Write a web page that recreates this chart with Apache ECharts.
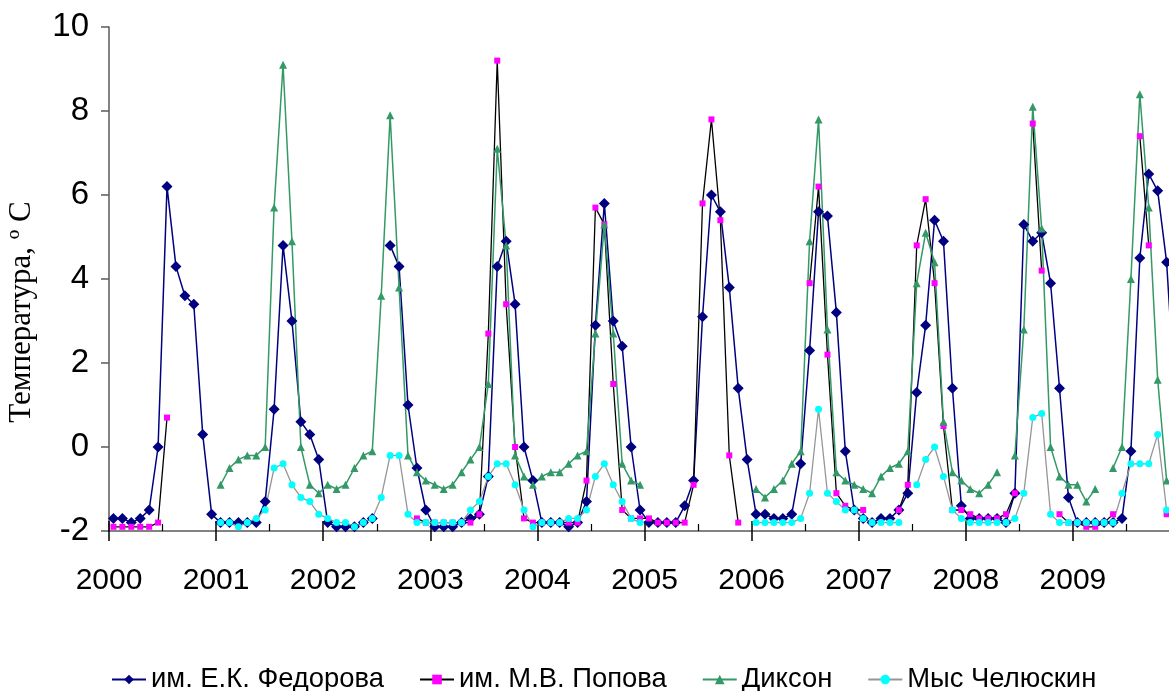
<!DOCTYPE html>
<html>
<head>
<meta charset="utf-8">
<script src="https://cdn.jsdelivr.net/npm/echarts@6/dist/echarts.min.js"></script>
<style>
html,body{margin:0;padding:0;background:#fff;}
#chart{width:1169px;height:691px;}
</style>
</head>
<body>
<div id="chart"></div>
<script>
const years = ['2000','2001','2002','2003','2004','2005','2006','2007','2008','2009'];
const yTicks = [-2, 0, 2, 4, 6, 8, 10];
const seriesNames = ['им. Е.К. Федорова', 'им. М.В. Попова', 'Диксон', 'Мыс Челюскин'];
const yAxisTitle = 'Температура, º С';

const fedorova = [
-1.7,-1.7,-1.8,-1.7,-1.5,0.0,6.2,4.3,3.6,3.4,0.3,-1.6,
-1.8,-1.8,-1.8,-1.8,-1.8,-1.3,0.9,4.8,3.0,0.6,0.3,-0.3,
-1.8,-1.9,-1.9,-1.9,-1.8,-1.7,null,4.8,4.3,1.0,-0.5,-1.5,
-1.9,-1.9,-1.9,-1.8,-1.7,-1.6,-0.7,4.3,4.9,3.4,0.0,-0.8,
-1.8,-1.8,-1.8,-1.9,-1.8,-1.3,2.9,5.8,3.0,2.4,0.0,-1.5,
-1.8,-1.8,-1.8,-1.8,-1.4,-0.8,3.1,6.0,5.6,3.8,1.4,-0.3,
-1.6,-1.6,-1.7,-1.7,-1.6,-0.4,2.3,5.6,5.5,3.2,-0.1,-1.5,
-1.7,-1.8,-1.7,-1.7,-1.5,-1.1,1.3,2.9,5.4,4.9,1.4,-1.4,
-1.7,-1.7,-1.7,-1.7,-1.8,-1.1,5.3,4.9,5.1,3.9,1.4,-1.2,
-1.8,-1.8,-1.8,-1.8,-1.8,-1.7,-0.1,4.5,6.5,6.1,4.4,1.0];

const popova = [
-1.9,-1.9,-1.9,-1.9,-1.9,-1.8,0.7,null,null,null,null,null,
null,null,null,null,null,null,null,null,null,null,null,null,
null,null,null,null,null,null,null,null,null,null,-1.7,-1.8,
-1.8,-1.8,-1.8,-1.8,-1.8,-1.6,2.7,9.2,3.4,0.0,-1.7,-1.8,
-1.8,-1.8,-1.8,-1.8,-1.8,-0.8,5.7,5.3,1.5,-1.5,-1.7,-1.7,
-1.7,-1.8,-1.8,-1.8,-1.8,-0.9,5.8,7.8,5.4,-0.2,-1.8,null,
null,null,null,null,null,null,3.9,6.2,2.2,-1.1,-1.4,-1.5,
-1.5,null,null,null,-1.5,-0.9,4.8,5.9,3.9,0.5,-1.5,-1.5,
-1.6,-1.7,-1.7,-1.7,-1.6,-1.1,null,7.7,4.2,null,-1.6,-1.8,
-1.8,-1.9,-1.9,-1.8,-1.6,null,null,7.4,4.8,null,-1.6,-1.7];

const dikson = [
null,null,null,null,null,null,null,null,null,null,null,null,
-0.9,-0.5,-0.3,-0.2,-0.2,0.0,5.7,9.1,4.9,0.0,-0.9,-1.1,
-0.9,-1.0,-0.9,-0.5,-0.2,-0.1,3.6,7.9,3.8,-0.2,-0.6,-0.8,
-0.9,-1.0,-0.9,-0.6,-0.3,0.0,1.5,7.1,4.8,-0.2,-0.7,-0.9,
-0.7,-0.6,-0.6,-0.4,-0.2,-0.1,2.7,5.3,2.7,-0.4,-0.8,-0.9,
null,null,null,null,null,null,null,null,null,null,null,null,
-1.0,-1.2,-1.0,-0.8,-0.4,-0.1,4.9,7.8,2.8,-0.6,-0.8,-0.9,
-1.0,-1.1,-0.7,-0.5,-0.4,-0.1,3.9,5.1,4.4,0.6,-0.6,-0.8,
-1.0,-1.1,-0.9,-0.6,null,-0.2,2.8,8.1,5.2,0.0,-0.7,-0.9,
-0.9,-1.3,-1.0,null,-0.5,0.0,4.0,8.4,5.7,1.6,-0.8,-0.9];

const chelyuskin = [
null,null,null,null,null,null,null,null,null,null,null,null,
-1.8,-1.8,-1.9,-1.8,-1.7,-1.5,-0.5,-0.4,-0.9,-1.2,-1.3,-1.6,
-1.7,-1.8,-1.8,-1.9,-1.8,-1.7,-1.2,-0.2,-0.2,-1.6,-1.8,-1.8,
-1.8,-1.8,-1.8,-1.8,-1.5,-1.3,-0.7,-0.4,-0.4,-0.9,-1.5,-1.9,
-1.8,-1.8,-1.8,-1.7,-1.7,-1.5,-0.7,-0.4,-0.9,-1.3,-1.7,-1.8,
null,null,null,null,null,null,null,null,null,null,null,null,
-1.8,-1.8,-1.8,-1.8,-1.8,-1.7,-1.1,0.9,-1.1,-1.3,-1.5,-1.5,
-1.7,-1.8,-1.8,-1.8,-1.8,null,-0.9,-0.3,0.0,-0.7,-1.5,-1.7,
-1.8,-1.8,-1.8,-1.8,-1.8,-1.7,-1.1,0.7,0.8,-1.6,-1.8,-1.8,
-1.8,-1.8,-1.8,-1.8,-1.8,-1.1,-0.4,-0.4,-0.4,0.3,-1.5,-1.6];

const months = [];
years.forEach(y => { for (let m = 1; m <= 12; m++) months.push(y + '-' + m); });
const nMonths = months.length;

const axisColor = '#595959';
const sans = "'Liberation Sans', Arial, sans-serif";

const chart = echarts.init(document.getElementById('chart'), null, {renderer: 'canvas'});

function lineSeries(name, data, lineColor, markColor, symbol, size, width) {
  return {
    name: name, type: 'line', data: data, xAxisIndex: 0, yAxisIndex: 0,
    symbol: symbol, symbolSize: size, showSymbol: true, showAllSymbol: true,
    connectNulls: false, silent: true,
    lineStyle: {color: lineColor, width: width},
    itemStyle: {color: markColor, borderWidth: 0},
    emphasis: {disabled: true}
  };
}

chart.setOption({
  animation: false,
  backgroundColor: '#ffffff',
  grid: {left: 109, width: 1071, top: 27, height: 504, containLabel: false, outerBoundsMode: 'none'},
  legend: {
    top: 661, left: 106,
    itemGap: 35, itemWidth: 34, itemHeight: 12,
    textStyle: {fontFamily: sans, fontSize: 27.4, color: '#000'},
    data: seriesNames,
    selectedMode: false
  },
  xAxis: [
    {type: 'category', data: months, boundaryGap: true, show: false, position: 'bottom'},
    {type: 'value', min: 0, max: nMonths, interval: 12, position: 'bottom',
     axisLine: {show: true, onZero: true, lineStyle: {color: axisColor, width: 1.5}},
     axisTick: {show: true, inside: true, length: 10, lineStyle: {color: '#000', width: 1.5}},
     minorTick: {show: true, splitNumber: 2, length: 7, lineStyle: {color: '#000', width: 1.2}},
     axisLabel: {show: false}, splitLine: {show: false}},
    {type: 'value', min: 0, max: nMonths, interval: 12, position: 'bottom',
     axisLine: {show: false, onZero: true},
     axisTick: {show: true, inside: false, length: 10, lineStyle: {color: '#000', width: 1.5}},
     axisLabel: {show: false}, splitLine: {show: false}},
    {type: 'value', min: 0, max: nMonths, interval: 12, position: 'bottom',
     axisLine: {show: false, onZero: false},
     axisTick: {show: false}, splitLine: {show: false},
     axisLabel: {show: true, margin: 35, fontFamily: sans, fontSize: 30, color: '#000',
       hideOverlap: false, showMinLabel: true, showMaxLabel: false,
       formatter: v => (years[Math.round(v / 12)] || '')}}
  ],
  yAxis: {
    type: 'value', min: yTicks[0], max: yTicks[yTicks.length - 1], interval: 2,
    axisLine: {show: true, onZero: false, lineStyle: {color: axisColor, width: 1.5}},
    axisTick: {show: true, inside: false, length: 8, lineStyle: {color: axisColor, width: 1.5}},
    axisLabel: {fontFamily: sans, fontSize: 33, color: '#000', margin: 20},
    splitLine: {show: false},
    name: yAxisTitle, nameLocation: 'middle', nameGap: 72, nameRotate: 90,
    nameTextStyle: {fontFamily: "'Liberation Serif', 'Times New Roman', serif", fontSize: 31, color: '#000',
      padding: [0, 66, 0, 0]}
  },
  series: [
    lineSeries(seriesNames[0], fedorova, '#000080', '#000080', 'diamond', 11, 1.5),
    lineSeries(seriesNames[1], popova, '#000000', '#FF00FF', 'rect', 6, 1.3),
    lineSeries(seriesNames[2], dikson, '#339966', '#339966', 'triangle', 8, 1.5),
    lineSeries(seriesNames[3], chelyuskin, '#969696', '#00FFFF', 'circle', 7, 1.3)
  ]
});
</script>
</body>
</html>
